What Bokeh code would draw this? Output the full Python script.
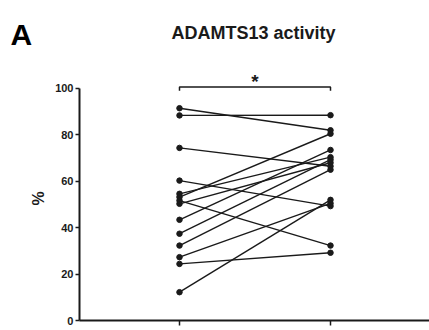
import math
from bokeh.plotting import figure
from bokeh.models import Label, FixedTicker, ColumnDataSource, Range1d
from bokeh.embed import file_html
from bokeh.resources import INLINE

# data
groups = [0, 1]
before = [91.5, 88.4, 74.4, 60.3, 54.6, 53.2, 51.7, 50.3, 43.4, 37.4, 32.3, 27.3, 24.4, 12.2]
after = [82.0, 88.5, 66.5, 49.3, 70.4, 80.5, 32.3, 68.0, 73.5, 69.3, 65.0, 50.5, 29.2, 52.0]
y_ticks = [0, 20, 40, 60, 80, 100]
title_text = "ADAMTS13 activity"
panel_text = "A"
y_label = "%"
sig_text = "*"
bracket_y = 100.6
bracket_drop = 99.0

FONT = "Liberation Sans"
INK = "#1a1a1a"

# canvas-wide frame; axes are pinned inside it
X0, X1 = -1.1854, 1.6556
Y0, Y1 = -4.31, 137.93
AXIS_X = -0.6623   # where the value axis sits

p = figure(width=429, height=330, output_backend="svg", toolbar_location=None,
           x_range=Range1d(X0, X1), y_range=Range1d(Y0, Y1),
           min_border=0, min_border_left=0, min_border_right=0,
           min_border_top=0, min_border_bottom=0)
p.outline_line_color = None
p.xgrid.visible = False
p.ygrid.visible = False
p.background_fill_color = "white"
p.border_fill_color = "white"

# y axis
ya = p.yaxis[0]
ya.fixed_location = AXIS_X
ya.ticker = FixedTicker(ticks=y_ticks)
ya.bounds = (0, 100)
ya.minor_tick_line_color = None
ya.major_tick_in = 0
ya.major_tick_out = 4
ya.major_tick_line_width = 1.5
ya.major_tick_line_color = INK
ya.axis_line_width = 2
ya.axis_line_color = INK
ya.major_label_text_font = FONT
ya.major_label_text_font_style = "bold"
ya.major_label_text_font_size = "11px"
ya.major_label_text_color = INK
ya.major_label_standoff = 2

# x axis
xa = p.xaxis[0]
xa.fixed_location = 0
xa.ticker = FixedTicker(ticks=groups)
xa.bounds = (AXIS_X, X1)
xa.minor_tick_line_color = None
xa.major_tick_in = 0
xa.major_tick_out = 5
xa.major_tick_line_width = 1.5
xa.major_tick_line_color = INK
xa.axis_line_width = 2
xa.axis_line_color = INK
xa.major_label_overrides = {0: "", 1: ""}
xa.major_label_standoff = 0

# paired lines
xs = [[groups[0], groups[1]] for _ in before]
ys = [[b, a] for b, a in zip(before, after)]
p.multi_line(xs, ys, line_color=INK, line_width=1.4)
src = ColumnDataSource(dict(x=[groups[0]] * len(before) + [groups[1]] * len(after),
                            y=before + after))
p.scatter("x", "y", source=src, size=5.5, fill_color=INK, line_color=INK)

# significance bracket
p.line([groups[0], groups[0], groups[1], groups[1]],
       [bracket_drop, bracket_y, bracket_y, bracket_drop], line_color=INK, line_width=1.5)
p.add_layout(Label(x=0.5, y=bracket_y + 2.4, text=sig_text, text_align="center",
                   text_baseline="alphabetic", text_font=FONT, text_font_style="bold",
                   text_font_size="19px", text_color=INK))

# title, panel letter, y label
p.add_layout(Label(x=0.49, y=123.9, text=title_text, text_align="center",
                   text_baseline="alphabetic", text_font=FONT, text_font_style="bold",
                   text_font_size="18px", text_color=INK))
p.add_layout(Label(x=-1.119, y=123.3, text=panel_text, text_align="left",
                   text_baseline="alphabetic", text_font=FONT, text_font_style="bold",
                   text_font_size="30px", text_color="black"))
p.add_layout(Label(x=-0.934, y=52.6, text=y_label, angle=math.pi / 2, text_align="center",
                   text_baseline="middle", text_font=FONT, text_font_style="bold",
                   text_font_size="16px", text_color=INK))

open("out.html", "w").write(file_html(p, INLINE))
